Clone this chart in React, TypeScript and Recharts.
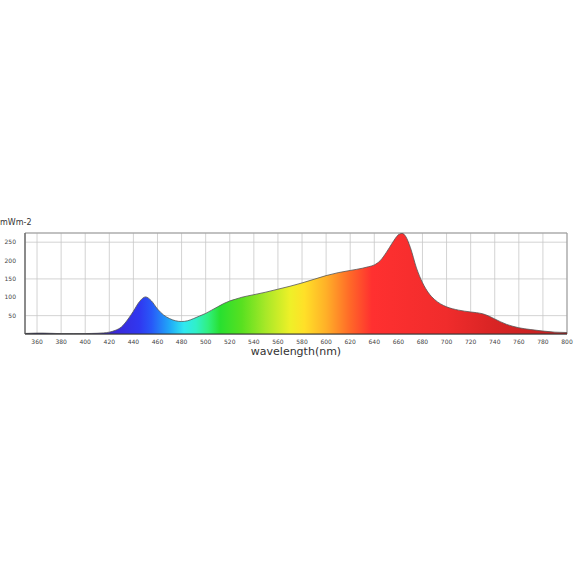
import {
    AreaChart,
    Area,
    XAxis,
    YAxis,
    CartesianGrid,
    ReferenceArea,
} from 'recharts';

// wavelength (nm) and irradiance (mWm-2)
const wavelengths = [
    350, 355, 360, 365, 370, 375, 380, 390, 400, 405, 410, 415, 420, 425, 430, 435, 440, 445, 450, 455,
    460, 465, 470, 475, 480, 485, 490, 495, 500, 505, 510, 515, 520, 525, 530, 540, 550, 560, 570, 580,
    590, 600, 610, 620, 630, 635, 640, 645, 650, 655, 660, 663, 666, 670, 675, 680, 685, 690, 695, 700,
    710, 720, 725, 730, 735, 740, 745, 750, 755, 760, 770, 780, 790, 800,
];
const irradiance = [
    1.5, 2, 2.5, 2.5, 2, 1.5, 1, 1, 1, 1.5, 2, 3, 5, 10, 19, 38, 62, 88, 101, 90,
    68, 52, 42, 36, 34, 36, 42, 49, 56, 65, 74, 83, 90, 95, 100, 107, 114, 122, 130, 139,
    149, 159, 167, 173, 179, 183, 188, 200, 222, 248, 270, 274, 266, 235, 180, 140, 112, 94, 82, 74,
    65, 60, 58, 55, 49, 41, 33, 26, 21, 17, 12, 8, 5, 4,
];
const xTicks = [
    360, 380, 400, 420, 440, 460, 480, 500, 520, 540, 560, 580, 600, 620, 640, 660, 680, 700, 720, 740,
    760, 780, 800,
];
const yTicks = [50, 100, 150, 200, 250];

// spectrum colours along the x axis
const spectrum: [number, string][] = [
    [350, '#2a2a60'],
    [410, '#3020a0'],
    [425, '#3a28d8'],
    [445, '#3038f0'],
    [455, '#2858f8'],
    [470, '#20a8f8'],
    [482, '#30e8f0'],
    [492, '#30f0c8'],
    [502, '#30f080'],
    [512, '#28e030'],
    [530, '#58e020'],
    [550, '#a8e828'],
    [570, '#eef028'],
    [582, '#ffe028'],
    [600, '#ffb028'],
    [620, '#ff6828'],
    [638, '#ff3030'],
    [700, '#f02c2c'],
    [740, '#d82424'],
    [800, '#c02020'],
];

const data = wavelengths.map((w, i) => ({ w, v: irradiance[i] }));

const App = () => {
    return (
        <div style={{ position: 'absolute', left: 0, top: 0, width: 580, height: 580, background: '#fff' }}>
            <div
                style={{
                    position: 'absolute',
                    left: 0,
                    top: 218,
                    fontFamily: 'DejaVu Sans, sans-serif',
                    fontSize: 8,
                    color: '#333',
                }}
            >
                mWm-2
            </div>
            <AreaChart
                width={580}
                height={580}
                data={data}
                margin={{ top: 233, right: 13, left: 0, bottom: 216 }}
            >
                <defs>
                    <linearGradient id="spec" x1="0" y1="0" x2="1" y2="0">
                        {spectrum.map(([w, c]) => (
                            <stop key={w} offset={(w - 350) / 450} stopColor={c} />
                        ))}
                    </linearGradient>
                </defs>
                <CartesianGrid stroke="#c8c8c8" strokeWidth={0.8} />
                <XAxis
                    dataKey="w"
                    type="number"
                    domain={[350, 800]}
                    ticks={xTicks}
                    interval={0}
                    height={30}
                    stroke="#333"
                    tickLine={false}
                    tickMargin={0}
                    tick={{ fontSize: 6, fill: '#444', fontFamily: 'DejaVu Sans, sans-serif' }}
                    label={{
                        value: 'wavelength(nm)',
                        position: 'insideBottom',
                        offset: 9,
                        fontSize: 11,
                        fill: '#333',
                        fontFamily: 'DejaVu Sans, sans-serif',
                    }}
                />
                <YAxis
                    type="number"
                    domain={[0, 275]}
                    allowDataOverflow
                    ticks={yTicks}
                    width={25}
                    stroke="#555"
                    tickLine={false}
                    tickMargin={3}
                    tick={{ fontSize: 6, fill: '#444', fontFamily: 'DejaVu Sans, sans-serif' }}
                />
                <ReferenceArea x1={350} x2={800} y1={0} y2={275} fill="none" stroke="#999" strokeWidth={1} />
                <Area
                    type="monotone"
                    dataKey="v"
                    stroke="#555"
                    strokeWidth={0.8}
                    fill="url(#spec)"
                    fillOpacity={1}
                    isAnimationActive={false}
                />
            </AreaChart>
        </div>
    );
};

export default App;
